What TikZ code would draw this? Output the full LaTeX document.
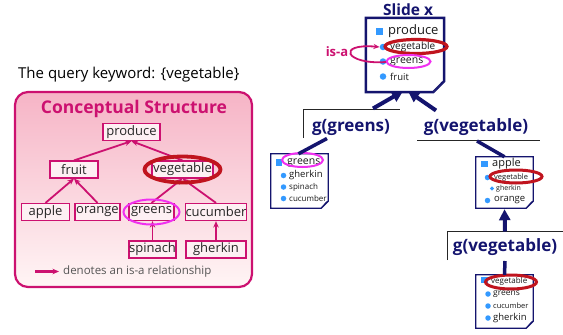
\documentclass[tikz,border=0pt]{standalone}
\usepackage{fontspec}
\setmainfont{Open Sans}
\usetikzlibrary{arrows.meta,shapes.geometric}
\definecolor{navy}{HTML}{14146E}
\definecolor{pinkline}{HTML}{CC1170}
\definecolor{pinktop}{HTML}{F6B4C6}
\definecolor{pinkbot}{HTML}{FFF5F5}
\definecolor{bullblue}{HTML}{3399FF}
\definecolor{ellred}{HTML}{C0141E}
\definecolor{ellmag}{HTML}{F030F0}
\definecolor{boxfill}{HTML}{FDF0F3}
\definecolor{legendgray}{HTML}{555555}
\newcommand\fs[1]{\fontsize{#1}{#1}\selectfont}
\newcommand\docoutline[3]{%
  \draw[navy, line width=#2, fill=white, line join=miter]
    (#1.north west) -- (#1.north east) -- ([yshift=#3]#1.south east)
    -- ([xshift=-#3]#1.south east) -- (#1.south west) -- cycle;
  \draw[navy, line width=0.7pt, fill=white, line join=round]
    ([yshift=#3]#1.south east) -- ([xshift=-#3]#1.south east)
    .. controls ([xshift=-0.5*#3, yshift=0.4*#3]#1.south east) .. ([xshift=-0.25*#3, yshift=0.9*#3]#1.south east) -- cycle;}
\tikzset{
  concept/.style={draw=pinkline, line width=1.2pt, fill=boxfill, inner sep=0pt,
    minimum height=17pt, font=\fs{13}, text=black!85},
  isa/.style={-{Stealth[length=6.5pt,width=5.5pt]}, draw=pinkline, line width=1.8pt},
  redell/.style={draw=ellred, line width=3.8pt},
  magell/.style={draw=ellmag, line width=2pt},
  docnode/.style={inner sep=0pt},
  sqb/.style={fill=bullblue, minimum size=7pt, inner sep=0pt},
  cirb/.style={fill=bullblue, circle, minimum size=6.5pt, inner sep=0pt},
  item/.style={anchor=west, inner sep=0pt, text=black!90},
  glabel/.style={font=\bfseries\fs{17}, text=navy, inner sep=0pt},
  bigarrow/.style={-{Triangle[length=11pt,width=11pt]}, draw=navy, line width=4pt},
  bigline/.style={draw=navy, line width=3.5pt},
  frame/.style={draw=black!85, line width=0.9pt}
}
\begin{document}
\begin{tikzpicture}[x=1pt,y=-1pt]
\useasboundingbox (0,0) rectangle (563,335);

% ---------- left panel ----------
\node[anchor=west, inner sep=0pt, font=\fs{15}] (query) at (18,75) {The query keyword: \{vegetable\}};
\node[draw=pinkline, line width=2.2pt, rounded corners=13pt, top color=pinktop, bottom color=pinkbot,
      minimum width=237pt, minimum height=195pt, inner sep=0pt] (panel) at (133.5,189.5) {};
\node[font=\bfseries\fs{17.5}, text=pinkline, inner sep=0pt] (title) at (134,109) {Conceptual Structure};

\node[concept, minimum width=57pt] (produce) at (131.5,132) {produce};
\node[concept, minimum width=48pt] (fruit) at (74,169.5) {fruit};
\node[concept, minimum width=61pt] (vegetable) at (182.5,169.5) {vegetable};
\node[concept, minimum width=48pt] (apple) at (45.5,212) {apple};
\node[concept, minimum width=45pt] (orange) at (97.5,212) {orange};
\node[concept, minimum width=45pt] (greens) at (151.5,212) {greens};
\node[concept, minimum width=60pt] (cucumber) at (216,212) {cucumber};
\node[concept, minimum width=47pt] (spinach) at (152.5,249.5) {spinach};
\node[concept, minimum width=60pt] (gherkin) at (216,249.5) {gherkin};

\draw[isa] (apple.north) -- (fruit.south);
\draw[isa] (orange.north) -- (fruit.south);
\draw[isa] (fruit.north) -- (produce.south);
\draw[isa] (vegetable.north) -- (produce.south);
\draw[isa] (greens.north) -- (vegetable.south);
\draw[isa] (cucumber.north) -- (vegetable.south);
\draw[isa] (spinach.north) -- (spinach.north |- greens.south);
\draw[isa] (gherkin.north) -- (cucumber.south);

\draw[redell] (vegetable.center) ellipse [x radius=38pt, y radius=13pt];
\draw[magell] (greens.center) ellipse [x radius=28pt, y radius=12.5pt];

\coordinate (legA) at (35,271.5);
\node[anchor=west, inner sep=0pt, font=\fs{11.5}, text=legendgray] (legend) at (63,271.5) {denotes an is-a relationship};
\draw[isa, line width=2.2pt] (legA) -- ([xshift=-4pt]legend.west);

% ---------- slide ----------
\node[glabel, font=\bfseries\fs{15.5}] (slidetitle) at (408,10) {Slide x};
\node[docnode, minimum width=78pt, minimum height=74pt] (slide) at (405,55) {};
\docoutline{slide}{2.5pt}{11pt}
\node[sqb] (sb1) at (379.5,31) {};
\node[item, font=\fs{13}] (st1) at (388,31) {produce};
\node[cirb] (sb2) at (383,47) {};
\node[item, font=\fs{10}] (st2) at (390,47) {vegetable};
\node[cirb] (sb3) at (383,61.5) {};
\node[item, font=\fs{10.5}] (st3) at (390,61.5) {greens};
\node[cirb] (sb4) at (383,76.5) {};
\node[item, font=\fs{9.5}] (st4) at (390,76.5) {fruit};
\draw[redell, line width=3.2pt] (416,46.5) ellipse [x radius=31pt, y radius=7pt];
\draw[magell] (408.5,61.5) ellipse [x radius=22pt, y radius=6.5pt];
\node[font=\bfseries\fs{13}, text=pinkline, inner sep=0pt] (isalabel) at (337,52) {is-a};
\coordinate (isaS) at (386,62);
\draw[-{Stealth[length=6pt,width=5pt]}, draw=pinkline, line width=1.8pt]
  (isaS) .. controls (345,65) and (336,43) .. (sb2.west);

% ---------- g labels ----------
\node[glabel] (gg) at (351,127) {g(greens)};
\draw[frame] (303,138) -- (303,109) -- (400,109);
\node[glabel] (gv1) at (476,127) {g(vegetable)};
\draw[frame] (417,140.5) -- (540,140.5);
\node[glabel] (gv2) at (505,247) {g(vegetable)};
\draw[frame] (447,260) -- (447,231.5) -- (563,231.5);

% ---------- left doc ----------
\node[docnode, minimum width=57pt, minimum height=54pt] (docA) at (299.5,181) {};
\docoutline{docA}{1.3pt}{7pt}
\node[sqb, minimum size=6.5pt] (ab1) at (279,162.5) {};
\node[item, font=\fs{10.5}] (at1) at (287,162.5) {greens};
\node[cirb, minimum size=5.5pt] (ab2) at (283.5,175.5) {};
\node[item, font=\fs{9.5}] (at2) at (289,175.5) {gherkin};
\node[cirb, minimum size=5.5pt] (ab3) at (283.5,187) {};
\node[item, font=\fs{8}] (at3) at (289,187) {spinach};
\node[cirb, minimum size=5.5pt] (ab4) at (283.5,198.5) {};
\node[item, font=\fs{8}] (at4) at (289,198.5) {cucumber};
\draw[magell] (302.5,160) ellipse [x radius=20.5pt, y radius=7pt];

% ---------- right doc ----------
\node[docnode, minimum width=57pt, minimum height=51pt] (docB) at (504.5,182.5) {};
\docoutline{docB}{1.3pt}{7pt}
\node[sqb, minimum size=6.5pt] (bb1) at (484.5,164) {};
\node[item, font=\fs{11}] (bt1) at (492,164) {apple};
\node[cirb, minimum size=5.5pt] (bb2) at (487.5,177.5) {};
\node[item, font=\fs{7.5}] (bt2) at (494,177.5) {vegetable};
\node[diamond, fill=bullblue, minimum size=4.5pt, inner sep=0pt] (bb3) at (492,188.5) {};
\node[item, font=\fs{7}] (bt3) at (496,188.5) {gherkin};
\node[cirb, minimum size=5.5pt] (bb4) at (487.5,200.5) {};
\node[item, font=\fs{9.5}] (bt4) at (494,200.5) {orange};
\draw[redell, line width=3pt] (516,176.5) ellipse [x radius=26pt, y radius=6.5pt];

% ---------- bottom doc ----------
\node[docnode, minimum width=57pt, minimum height=53pt] (docC) at (504.5,301.5) {};
\docoutline{docC}{1.3pt}{7pt}
\node[sqb, minimum size=6.5pt] (cb1) at (484.5,280) {};
\node[item, font=\fs{8}] (ct1) at (491,281) {vegetable};
\node[cirb, minimum size=5.5pt] (cb2) at (488,294) {};
\node[item, font=\fs{8.5}] (ct2) at (493,294) {greens};
\node[cirb, minimum size=5.5pt] (cb3) at (488,306) {};
\node[item, font=\fs{7.5}] (ct3) at (493,306) {cucumber};
\node[cirb, minimum size=5.5pt] (cb4) at (488,318) {};
\node[item, font=\fs{9.5}] (ct4) at (493,318) {gherkin};
\draw[redell, line width=3pt] (511,282) ellipse [x radius=25.5pt, y radius=7pt];

% ---------- connectors ----------
\coordinate (a1s) at (373,108.5);
\coordinate (a2s) at (436,110.5);
\draw[bigarrow] (a1s) -- ([xshift=-2pt,yshift=1pt]slide.south);
\draw[bigarrow] (a2s) -- ([xshift=3pt,yshift=1pt]slide.south);
\coordinate (l1s) at (327,138.5);
\draw[bigline] (l1s) -- ([xshift=-1pt]docA.north);
\coordinate (l2s) at (477,141);
\draw[bigline] (l2s) -- (docB.north);
\coordinate (a3s) at (505,231.5);
\draw[bigarrow] (a3s) -- ([yshift=-1pt]docB.south);
\coordinate (l3s) at (505,261);
\draw[bigline] (l3s) -- (docC.north);
\end{tikzpicture}
\end{document}
